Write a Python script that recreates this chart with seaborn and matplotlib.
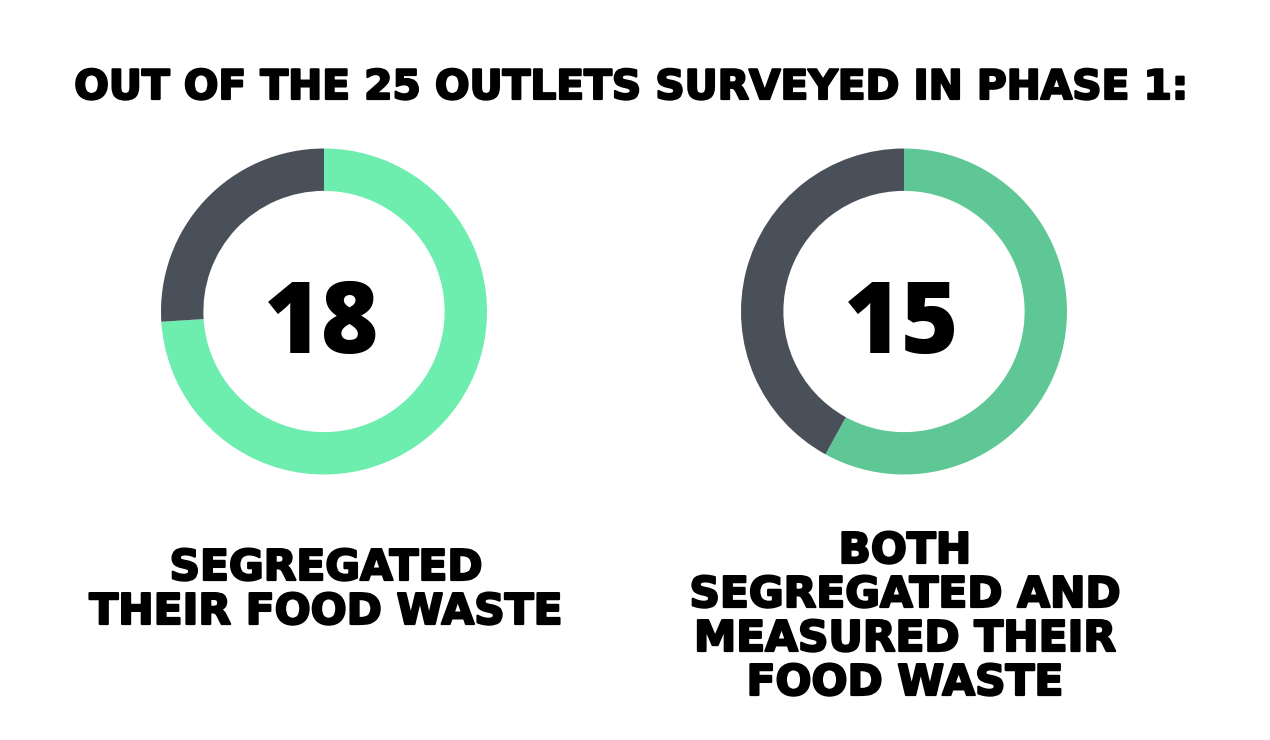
import matplotlib
matplotlib.use("Agg")
import matplotlib.pyplot as plt
import matplotlib.patheffects as pe
import seaborn as sns

# data
counts = [18, 15]                 # numbers printed in the middle
green_share = [74, 58]            # arc share (%) as drawn in the picture
label_lines = [["SEGREGATED", "THEIR FOOD WASTE"],
               ["BOTH", "SEGREGATED AND", "MEASURED THEIR", "FOOD WASTE"]]
greens = ["#6DEDAE", "#5EC795"]
grey = "#4A5059"
title = "OUT OF THE 25 OUTLETS SURVEYED IN PHASE 1:"

sns.set_theme(style="white")
plt.rcParams["font.family"] = ["DejaVu Sans"]

W, H = 1270, 740
fig = plt.figure(figsize=(W / 100, H / 100), dpi=100)
fig.patch.set_facecolor("white")

# thicken the bold face a little so it reads as a heavy poster font
heavy = [pe.withStroke(linewidth=1.6, foreground="black")]

centers = [(324, 311.5), (904, 311.5)]
R = 163

for i, (cx, cy) in enumerate(centers):
    ax = fig.add_axes([(cx - R) / W, (H - cy - R) / H, 2 * R / W, 2 * R / H])
    ax.pie([green_share[i], 100 - green_share[i]], colors=[greens[i], grey],
           startangle=90, counterclock=False, radius=1,
           wedgeprops=dict(width=0.26, edgecolor="none"))
    ax.set_xlim(-1, 1)
    ax.set_ylim(-1, 1)
    ax.axis("off")
    fig.text((cx - 2) / W, (H - 353) / H, str(counts[i]), ha="center", va="baseline",
             fontsize=71, fontweight=800, family=["Open Sans", "DejaVu Sans"],
             color="black")

fig.text(632 / W, (H - 99) / H, title, ha="center", va="baseline",
         fontsize=29.3, fontweight="bold", color="black", path_effects=heavy)

# captions below donuts, one line at a time
caption_x = [326, 905]
first_base = [580, 563]
for i, lines in enumerate(label_lines):
    for j, line in enumerate(lines):
        fig.text(caption_x[i] / W, (H - first_base[i] - 44 * j) / H, line,
                 ha="center", va="baseline", fontsize=30.5, fontweight="bold",
                 color="black", path_effects=heavy)

fig.savefig("out.png", dpi=100, facecolor="white")
